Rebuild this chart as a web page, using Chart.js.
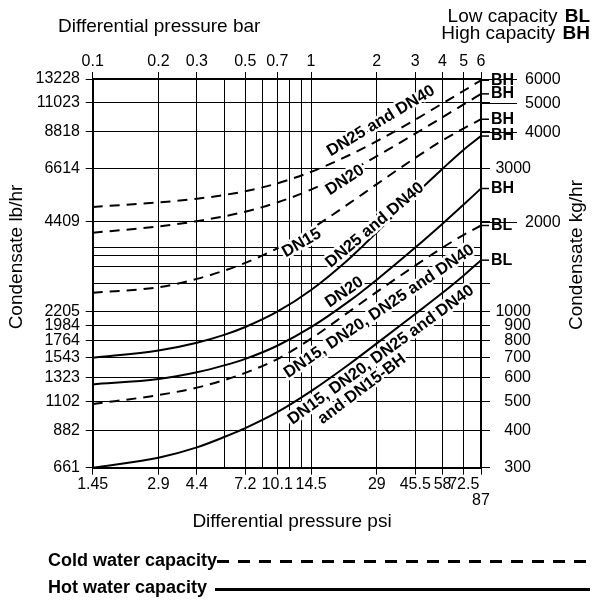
<!DOCTYPE html>
<html>
<head>
<meta charset="utf-8">
<script src="https://cdn.jsdelivr.net/npm/chart.js@4.4.0/dist/chart.umd.min.js"></script>
<style>
  html, body { margin: 0; padding: 0; background: #fff; }
</style>
</head>
<body>
<canvas id="chart" width="592" height="600"></canvas>
<script>
// differential pressure in bar (x) and condensate in kg/hr (y)
const pressureBar = [0.1, 0.2, 0.3, 0.4, 0.5, 0.7, 1, 1.5, 2, 3, 4, 5, 6];

const coldDN25DN40 = [2238, 2317, 2384, 2454, 2526, 2684, 2934, 3340, 3715, 4387, 4970, 5480, 5940];
const coldDN20 = [1835, 1926, 2006, 2082, 2158, 2316, 2559, 2949, 3309, 3940, 4470, 4932, 5350];
const coldDN15 = [1156, 1205, 1286, 1370, 1455, 1626, 1889, 2304, 2668, 3268, 3740, 4100, 4400];
const hotDN25DN40 = [700, 740, 786, 835, 887, 998, 1180, 1505, 1841, 2465, 3005, 3480, 3865];
const hotDN20 = [570, 594, 626, 660, 694, 768, 886, 1085, 1278, 1637, 1968, 2280, 2580];
const coldAll = [490, 525, 556, 589, 623, 693, 811, 1001, 1163, 1424, 1636, 1805, 1940];
const hotAll = [300, 324, 351, 380, 407, 460, 541, 667, 782, 981, 1155, 1320, 1485];

const seriesValues = [coldDN25DN40, coldDN20, coldDN15, hotDN25DN40, hotDN20, coldAll, hotAll];
const seriesCold = [true, true, true, false, false, true, false];
const capacityCodes = ["BH", "BH", "BH", "BH", "BH", "BL", "BL"];

// axes
const barGrid = [0.1, 0.2, 0.3, 0.4, 0.5, 0.6, 0.7, 0.8, 0.9, 1, 2, 3, 4, 5, 6];
const barTickLabels = ["0.1", "0.2", "0.3", "", "0.5", "", "0.7", "", "", "1", "2", "3", "4", "5", "6"];
const psiTickLabels = ["1.45", "2.9", "4.4", "", "7.2", "", "10.1", "", "", "14.5", "29", "45.5", "58", "72.5", "87"];

const kgGrid = [300, 400, 500, 600, 700, 800, 900, 1000, 1242, 1412, 1541, 1640, 2000, 3000, 4000, 5000, 6000];
const lbTickLabels = ["661", "882", "1102", "1323", "1543", "1764", "1984", "2205", "", "", "", "", "4409", "6614", "8818", "11023", "13228"];
const kgTickLabels = ["300", "400", "500", "600", "700", "800", "900", "1000", "", "", "", "", "2000", "3000", "4000", "5000", "6000"];
const kgLongTicks = [2000, 4000, 5000, 6000];
const kgBareTicks = [1242];

// text on the curves
const curveLabels = [
  { text: "DN25 and DN40", at: [2.09, 4338], angle: -31 },
  { text: "DN20", at: [1.43, 2750], angle: -33 },
  { text: "DN15", at: [0.906, 1694], angle: -30 },
  { text: "DN25 and DN40", at: [1.96, 1945], angle: -40 },
  { text: "DN20", at: [1.42, 1160], angle: -34 },
  { text: "DN15, DN20, DN25 and DN40", at: [2.05, 1000], angle: -34 },
  { text: "DN15, DN20, DN25 and DN40", at: [2.09, 715], angle: -36 },
  { text: "and DN15-BH", at: [1.71, 550], angle: -37 }
];

const FONT = "'Liberation Sans', Arial, Helvetica, sans-serif";

const labelAt = (grid, labels, v) => {
  const i = grid.findIndex(g => Math.abs(g - v) < 1e-9);
  return i < 0 ? "" : labels[i];
};
const tickCol = (grid, labels, extra = []) => c =>
  c.tick && (labelAt(grid, labels, c.tick.value) !== "" || extra.includes(c.tick.value))
    ? "#000" : "rgba(0,0,0,0)";

const annotate = {
  id: "annotate",
  afterDatasetsDraw(chart) {
    const { ctx, chartArea: area, scales: { x, y } } = chart;
    ctx.save();
    ctx.lineJoin = "round";

    // curve labels with white halo
    ctx.textAlign = "center";
    ctx.textBaseline = "middle";
    ctx.font = "bold 16.5px " + FONT;
    curveLabels.forEach(l => {
      ctx.save();
      ctx.translate(x.getPixelForValue(l.at[0]), y.getPixelForValue(l.at[1]));
      ctx.rotate(l.angle * Math.PI / 180);
      ctx.strokeStyle = "#fff";
      ctx.lineWidth = 5;
      ctx.strokeText(l.text, 0, 0);
      ctx.fillStyle = "#000";
      ctx.fillText(l.text, 0, 0);
      ctx.restore();
    });

    // BH / BL at the curve ends
    ctx.textAlign = "left";
    ctx.font = "bold 16px " + FONT;
    ctx.strokeStyle = "#000";
    ctx.lineWidth = 1.5;
    chart.data.datasets.forEach((ds, i) => {
      const py = y.getPixelForValue(ds.data[ds.data.length - 1].y);
      ctx.beginPath();
      ctx.moveTo(area.right, py);
      ctx.lineTo(area.right + 8, py);
      ctx.stroke();
      ctx.fillStyle = "#000";
      ctx.fillText(capacityCodes[i], area.right + 10, py);
    });

    // long right ticks
    ctx.font = "16px " + FONT;
    ctx.lineWidth = 1;
    kgLongTicks.forEach(v => {
      const py = Math.round(y.getPixelForValue(v)) + 0.5;
      ctx.beginPath();
      ctx.moveTo(area.right, py);
      ctx.lineTo(area.right + 36, py);
      ctx.stroke();
      ctx.fillText(String(v), area.right + 44, py);
    });

    // titles
    ctx.font = "19px " + FONT;
    ctx.textBaseline = "alphabetic";
    ctx.textAlign = "left";
    ctx.fillText("Differential pressure bar", 58, 31.5);
    ctx.textAlign = "center";
    ctx.textBaseline = "middle";
    ctx.fillText("Differential pressure psi", 292, 521.5);
    ctx.save();
    ctx.translate(17, 257);
    ctx.rotate(-Math.PI / 2);
    ctx.fillText("Condensate lb/hr", 0, 0);
    ctx.restore();
    ctx.save();
    ctx.translate(577, 255);
    ctx.rotate(-Math.PI / 2);
    ctx.fillText("Condensate kg/hr", 0, 0);
    ctx.restore();

    // capacity key, top right
    ctx.textBaseline = "alphabetic";
    ctx.textAlign = "right";
    [["Low capacity ", "BL", 21.5], ["High capacity ", "BH", 39]].forEach(([t, b, by]) => {
      ctx.font = "bold 19px " + FONT;
      ctx.fillText(b, 590, by);
      const bw = ctx.measureText(b).width;
      ctx.font = "19px " + FONT;
      ctx.fillText(t, 590 - bw - 2, by);
    });

    // line style key, bottom
    ctx.textAlign = "left";
    ctx.textBaseline = "middle";
    ctx.font = "bold 18px " + FONT;
    ctx.fillText("Cold water capacity", 48, 561.5);
    ctx.fillText("Hot water capacity", 48, 588.5);
    ctx.lineWidth = 3;
    ctx.setLineDash([12, 9]);
    ctx.beginPath();
    ctx.moveTo(217, 561.5);
    ctx.lineTo(590, 561.5);
    ctx.stroke();
    ctx.setLineDash([]);
    ctx.beginPath();
    ctx.moveTo(215, 589.5);
    ctx.lineTo(590, 589.5);
    ctx.stroke();
    ctx.restore();
  }
};

const tickFont = { family: FONT, size: 16, lineHeight: 1 };

new Chart(document.getElementById("chart"), {
  type: "line",
  data: {
    datasets: seriesValues.map((vals, i) => ({
      data: pressureBar.map((p, j) => ({ x: p, y: vals[j] })),
      borderColor: "#000",
      borderWidth: 2,
      borderDash: seriesCold[i] ? [10, 7] : [],
      pointRadius: 0,
      cubicInterpolationMode: "monotone",
      fill: false
    }))
  },
  options: {
    responsive: false,
    animation: false,
    layout: { padding: { left: 0, top: 0, bottom: 0, right: 61 } },
    plugins: { legend: { display: false }, tooltip: { enabled: false } },
    scales: {
      x: {
        type: "logarithmic", position: "bottom", min: 0.1, max: 6,
        afterBuildTicks: s => { s.ticks = barGrid.map(v => ({ value: v })); },
        afterFit: s => { s.height = 600 - 467.7; },
        grid: { color: "#000", lineWidth: 1, tickLength: 7, tickColor: tickCol(barGrid, psiTickLabels) },
        border: { color: "#000", width: 2 },
        ticks: {
          autoSkip: false, maxRotation: 0, padding: 2.3, color: "#000", font: tickFont,
          callback: v => { const t = labelAt(barGrid, psiTickLabels, v); return v === 6 ? ["", t] : t; }
        }
      },
      x2: {
        type: "logarithmic", position: "top", min: 0.1, max: 6,
        afterBuildTicks: s => { s.ticks = barGrid.map(v => ({ value: v })); },
        afterFit: s => { s.height = 79; },
        grid: { drawOnChartArea: false, tickLength: 7, tickColor: tickCol(barGrid, barTickLabels) },
        border: { color: "#000", width: 2 },
        ticks: {
          autoSkip: false, maxRotation: 0, padding: 2.3, color: "#000", font: tickFont,
          callback: v => labelAt(barGrid, barTickLabels, v)
        }
      },
      y: {
        type: "logarithmic", position: "left", min: 300, max: 6000,
        afterBuildTicks: s => { s.ticks = kgGrid.map(v => ({ value: v })); },
        afterFit: s => { s.width = 92.7; },
        grid: { color: "#000", lineWidth: 1, tickLength: 7, tickColor: tickCol(kgGrid, lbTickLabels) },
        border: { color: "#000", width: 2 },
        ticks: {
          autoSkip: false, padding: 5.7, color: "#000", font: tickFont,
          callback: v => labelAt(kgGrid, lbTickLabels, v)
        }
      },
      y2: {
        type: "logarithmic", position: "right", min: 300, max: 6000,
        afterBuildTicks: s => { s.ticks = kgGrid.map(v => ({ value: v })); },
        afterFit: s => { s.width = 50; },
        grid: { drawOnChartArea: false, tickLength: 9, tickColor: tickCol(kgGrid, kgTickLabels, kgBareTicks) },
        border: { color: "#000", width: 2 },
        ticks: {
          autoSkip: false, padding: 5.4, crossAlign: "far", color: "#000", font: tickFont,
          callback: v => kgLongTicks.includes(v) ? "" : labelAt(kgGrid, kgTickLabels, v)
        }
      }
    }
  },
  plugins: [annotate]
});
</script>
</body>
</html>
